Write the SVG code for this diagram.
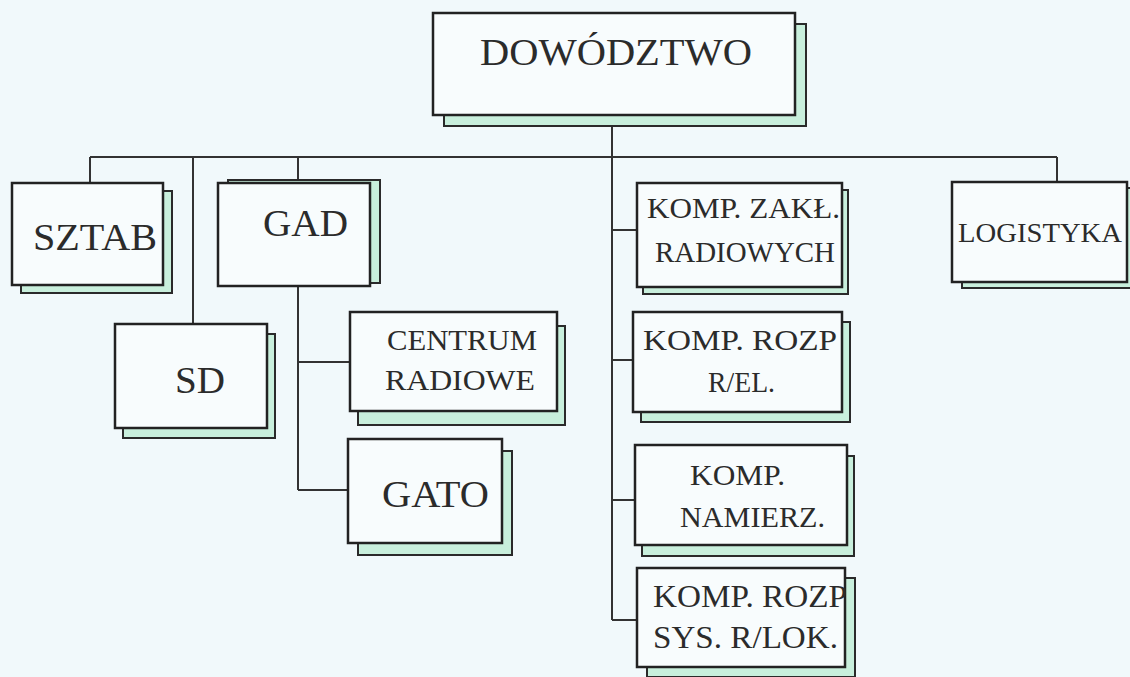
<svg xmlns="http://www.w3.org/2000/svg" width="1130" height="677" viewBox="0 0 1130 677">
  <style>
    .bg { fill: #f1f9fb; }
    .shadow { fill: #c8efdc; stroke: #2a2a2a; stroke-width: 2; }
    .box { fill: #f8fcfd; stroke: #222; stroke-width: 2.5; }
    .line { fill: none; stroke: #333; stroke-width: 2; }
    .lbl { font-family: "Liberation Serif", "Times New Roman", serif; fill: #2b2b2b; }
  </style>

  <rect class="bg" x="0" y="0" width="1130" height="677"/>

  <!-- connectors -->
  <g id="connectors">
    <line class="line" x1="612" y1="115" x2="612" y2="620"/>
    <line class="line" x1="90" y1="157" x2="1057" y2="157"/>
    <line class="line" x1="90" y1="157" x2="90" y2="183"/>
    <line class="line" x1="193" y1="157" x2="193" y2="324"/>
    <line class="line" x1="298" y1="157" x2="298" y2="183"/>
    <line class="line" x1="298" y1="286" x2="298" y2="490"/>
    <line class="line" x1="298" y1="362" x2="350" y2="362"/>
    <line class="line" x1="298" y1="490" x2="348" y2="490"/>
    <line class="line" x1="612" y1="230" x2="637" y2="230"/>
    <line class="line" x1="612" y1="360" x2="633" y2="360"/>
    <line class="line" x1="612" y1="500" x2="635" y2="500"/>
    <line class="line" x1="612" y1="620" x2="637" y2="620"/>
    <line class="line" x1="1057" y1="157" x2="1057" y2="182"/>
  </g>

  <!-- top command -->
  <g id="dowodztwo">
    <rect class="shadow" x="444" y="24" width="362" height="102"/>
    <rect class="box" x="433" y="13" width="362" height="102"/>
    <text class="lbl" x="480" y="65" font-size="38" textLength="272" lengthAdjust="spacingAndGlyphs">DOWÓDZTWO</text>
  </g>

  <!-- left branch -->
  <g id="sztab">
    <rect class="shadow" x="21" y="191" width="151" height="102"/>
    <rect class="box" x="12" y="183" width="151" height="102"/>
    <text class="lbl" x="33" y="250" font-size="38" textLength="124" lengthAdjust="spacingAndGlyphs">SZTAB</text>
  </g>

  <g id="gad">
    <rect class="shadow" x="228" y="180" width="152" height="103"/>
    <rect class="box" x="218" y="183" width="152" height="103"/>
    <text class="lbl" x="263" y="236" font-size="38" textLength="85" lengthAdjust="spacingAndGlyphs">GAD</text>
  </g>

  <g id="sd">
    <rect class="shadow" x="123" y="334" width="152" height="104"/>
    <rect class="box" x="115" y="324" width="152" height="104"/>
    <text class="lbl" x="175" y="393" font-size="38" textLength="50" lengthAdjust="spacingAndGlyphs">SD</text>
  </g>

  <g id="centrum-radiowe">
    <rect class="shadow" x="358" y="326" width="207" height="99"/>
    <rect class="box" x="350" y="312" width="207" height="99"/>
    <text class="lbl" x="387" y="350" font-size="30" textLength="150" lengthAdjust="spacingAndGlyphs">CENTRUM</text>
    <text class="lbl" x="385" y="390" font-size="30" textLength="150" lengthAdjust="spacingAndGlyphs">RADIOWE</text>
  </g>

  <g id="gato">
    <rect class="shadow" x="358" y="451" width="154" height="104"/>
    <rect class="box" x="348" y="439" width="154" height="104"/>
    <text class="lbl" x="382" y="507" font-size="37" textLength="107" lengthAdjust="spacingAndGlyphs">GATO</text>
  </g>

  <!-- right branch -->
  <g id="komp-zakl-radiowych">
    <rect class="shadow" x="643" y="190" width="205" height="104"/>
    <rect class="box" x="637" y="183" width="205" height="104"/>
    <text class="lbl" x="647" y="218" font-size="29" textLength="193" lengthAdjust="spacingAndGlyphs">KOMP. ZAKŁ.</text>
    <text class="lbl" x="655" y="262" font-size="29" textLength="180" lengthAdjust="spacingAndGlyphs">RADIOWYCH</text>
  </g>

  <g id="komp-rozp-rel">
    <rect class="shadow" x="641" y="322" width="209" height="100"/>
    <rect class="box" x="633" y="312" width="209" height="100"/>
    <text class="lbl" x="643" y="350" font-size="30" textLength="194" lengthAdjust="spacingAndGlyphs">KOMP. ROZP</text>
    <text class="lbl" x="708" y="392" font-size="30" textLength="67" lengthAdjust="spacingAndGlyphs">R/EL.</text>
  </g>

  <g id="komp-namierz">
    <rect class="shadow" x="642" y="456" width="212" height="100"/>
    <rect class="box" x="635" y="445" width="212" height="100"/>
    <text class="lbl" x="690" y="485" font-size="30" textLength="95" lengthAdjust="spacingAndGlyphs">KOMP.</text>
    <text class="lbl" x="680" y="527" font-size="30" textLength="145" lengthAdjust="spacingAndGlyphs">NAMIERZ.</text>
  </g>

  <g id="komp-rozp-sys">
    <rect class="shadow" x="647" y="578" width="208" height="99"/>
    <rect class="box" x="637" y="568" width="208" height="99"/>
    <text class="lbl" x="653" y="607" font-size="31" textLength="194" lengthAdjust="spacingAndGlyphs">KOMP. ROZP</text>
    <text class="lbl" x="653" y="648" font-size="31" textLength="185" lengthAdjust="spacingAndGlyphs">SYS. R/LOK.</text>
  </g>

  <g id="logistyka">
    <rect class="shadow" x="962" y="188" width="180" height="100"/>
    <rect class="box" x="952" y="182" width="175" height="100"/>
    <text class="lbl" x="958" y="242" font-size="28" textLength="164" lengthAdjust="spacingAndGlyphs">LOGISTYKA</text>
  </g>
</svg>
